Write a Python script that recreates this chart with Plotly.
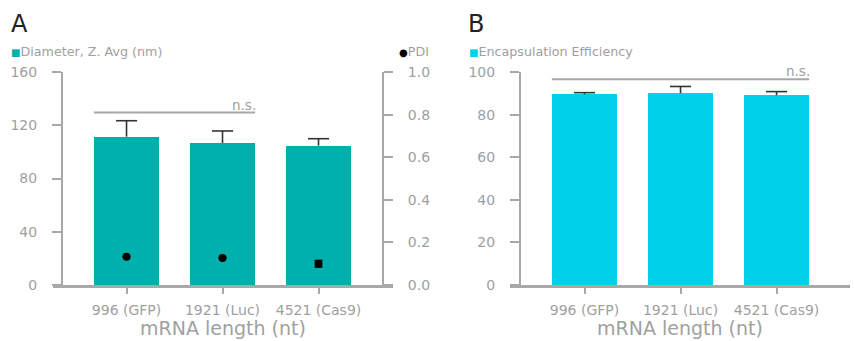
import plotly.graph_objects as go

W, H = 854, 341

categories = ["996 (GFP)", "1921 (Luc)", "4521 (Cas9)"]
diameter = [111.4, 106.7, 104.7]
diameter_err = [12.0, 9.0, 5.2]
pdi = [0.133, 0.127, 0.10]
pdi_err = [0.0, 0.0, 0.015]
ee = [89.5, 90.0, 89.1]
ee_err = [0.8, 3.2, 1.7]
ns_y_A = 129.5
ns_y_B = 96.6

TEAL = "#00b0ad"
CYAN = "#00d1ea"
GRAY = "#a8a8a8"
TXT = "#a0a0a0"
FONT = "DejaVu Sans"
BW = 0.68
CW = 0.11


def px(x):
    return x / W


def py(y):
    return 1 - y / H


def err_lines(vals, errs):
    xs, ys = [], []
    for i, (v, e) in enumerate(zip(vals, errs)):
        xs += [i, i, None, i - CW, i + CW, None]
        ys += [v, v + e, None, v + e, v + e, None]
    return xs, ys


fig = go.Figure()
idx = list(range(len(categories)))

fig.add_trace(go.Bar(
    x=idx, y=diameter, width=BW, marker=dict(color=TEAL, line=dict(width=0)),
    xaxis="x", yaxis="y", showlegend=False))
ex, ey = err_lines(diameter, diameter_err)
fig.add_trace(go.Scatter(x=ex, y=ey, mode="lines", line=dict(color="#333333", width=1.6),
                         xaxis="x", yaxis="y", showlegend=False, hoverinfo="skip"))
fig.add_trace(go.Scatter(
    x=idx, y=pdi, mode="markers", marker=dict(color="black", size=8),
    error_y=dict(type="data", array=pdi_err, color="black", thickness=1.5, width=4),
    xaxis="x", yaxis="y2", showlegend=False))
fig.add_trace(go.Bar(
    x=idx, y=ee, width=BW, marker=dict(color=CYAN, line=dict(width=0)),
    xaxis="x2", yaxis="y3", showlegend=False))
ex, ey = err_lines(ee, ee_err)
fig.add_trace(go.Scatter(x=ex, y=ey, mode="lines", line=dict(color="#333333", width=1.6),
                         xaxis="x2", yaxis="y3", showlegend=False, hoverinfo="skip"))

ydom = [py(285), py(72)]
tickfont = dict(family=FONT, size=14, color=TXT)
common_x = dict(showline=True, linewidth=3, linecolor=GRAY, ticks="outside", ticklen=6,
                tickwidth=2, tickcolor=GRAY, tickfont=tickfont, tickmode="array",
                tickvals=idx, ticktext=categories, showgrid=False, zeroline=False,
                ticklabelstandoff=4, automargin=False)
common_y = dict(showline=True, linewidth=2, linecolor=GRAY, ticks="outside", ticklen=9,
                tickwidth=2, tickcolor=GRAY, tickfont=tickfont, showgrid=False,
                zeroline=False, domain=ydom, ticklabelstandoff=12, automargin=False)

fig.update_layout(
    width=W, height=H, margin=dict(l=0, r=0, t=0, b=0, pad=0, autoexpand=False),
    paper_bgcolor="white", plot_bgcolor="rgba(0,0,0,0)", bargap=0,
    xaxis=dict(domain=[px(53), px(393)], range=[-0.766, 2.776], anchor="y", **common_x),
    xaxis2=dict(domain=[px(510), px(850)], range=[-0.776, 2.765], anchor="y3", **common_x),
    yaxis=dict(range=[0, 160], dtick=40, anchor="free", position=px(62), **common_y),
    yaxis2=dict(range=[0, 1], dtick=0.2, tickformat=".1f", anchor="free", position=px(383),
                overlaying="y", side="right", **common_y),
    yaxis3=dict(range=[0, 100], dtick=20, anchor="free", position=px(520), **common_y),
)

# significance lines
fig.add_shape(type="line", xref="x", yref="y", x0=0 - BW / 2, x1=1 + BW / 2,
              y0=ns_y_A, y1=ns_y_A, line=dict(color=GRAY, width=2))
fig.add_shape(type="line", xref="x2", yref="y3", x0=0 - BW / 2, x1=2 + BW / 2,
              y0=ns_y_B, y1=ns_y_B, line=dict(color=GRAY, width=2))
fig.add_annotation(xref="x", yref="y", x=1 + BW / 2, y=ns_y_A, text="n.s.", showarrow=False,
                   xanchor="right", yanchor="bottom", yshift=-2, xshift=3,
                   font=dict(family=FONT, size=13.5, color=TXT))
fig.add_annotation(xref="x2", yref="y3", x=2 + BW / 2, y=ns_y_B, text="n.s.", showarrow=False,
                   xanchor="right", yanchor="bottom", yshift=-2, xshift=3,
                   font=dict(family=FONT, size=13.5, color=TXT))

# panel letters
for letter, xx in [("A", 9), ("B", 466)]:
    fig.add_annotation(xref="paper", yref="paper", x=px(xx), y=py(24), text=letter,
                       showarrow=False, xanchor="left", yanchor="middle",
                       font=dict(family=FONT, size=24, color="#222222"))

# legends
leg_font = dict(family=FONT, size=12.7, color=TXT)
fig.add_annotation(xref="paper", yref="paper", x=px(9), y=py(52), showarrow=False,
                   xanchor="left", yanchor="middle", font=leg_font,
                   text=f'<span style="color:{TEAL};font-size:10px">■</span>Diameter, Z. Avg (nm)')
fig.add_annotation(xref="paper", yref="paper", x=px(431), y=py(52), showarrow=False,
                   xanchor="right", yanchor="middle", font=leg_font,
                   text='<span style="color:black;font-size:10px">●</span>PDI')
fig.add_annotation(xref="paper", yref="paper", x=px(467), y=py(52), showarrow=False,
                   xanchor="left", yanchor="middle", font=leg_font,
                   text=f'<span style="color:{CYAN};font-size:10px">■</span>Encapsulation Efficiency')

# x titles
for xc in [223, 680]:
    fig.add_annotation(xref="paper", yref="paper", x=px(xc), y=py(328), showarrow=False,
                       xanchor="center", yanchor="middle", text="mRNA length (nt)",
                       font=dict(family=FONT, size=19, color=TXT))

fig.write_html("out.html", config={"displayModeBar": False},
               post_script="document.body.style.margin='0px';")
